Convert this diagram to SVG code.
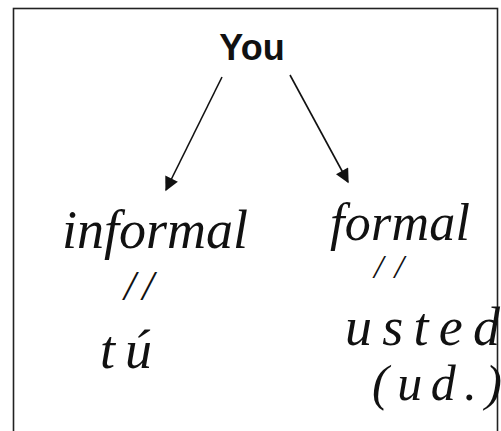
<svg xmlns="http://www.w3.org/2000/svg" width="501" height="431" viewBox="0 0 501 431">
<style>
.hand{font-family:"Liberation Serif","DejaVu Serif",serif;font-style:italic;fill:#111}
.conn{stroke:#111;stroke-width:1.6;fill:none}
</style>
<defs>
<marker id="ah" viewBox="0 0 10 10" refX="9" refY="5" markerWidth="15" markerHeight="14" markerUnits="userSpaceOnUse" orient="auto">
<path d="M0,0 L10,5 L0,10 z" fill="#111"/>
</marker>
</defs>
<rect width="501" height="431" fill="#fff"/>
<rect x="13.5" y="8.5" width="484" height="440" fill="none" stroke="#222" stroke-width="1.6"/>
<g id="you"><text x="252" y="60" text-anchor="middle" font-family="Liberation Sans, Arial, sans-serif" font-weight="bold" font-size="36" fill="#111">You</text></g>
<g id="connectors">
<line class="conn" x1="222" y1="77" x2="166" y2="190" marker-end="url(#ah)"/>
<line class="conn" x1="290" y1="75" x2="348" y2="182" marker-end="url(#ah)"/>
</g>
<g id="informal">
<text class="hand" x="62" y="248" font-size="54" textLength="186">informal</text>
<text class="hand" x="124" y="300" font-size="42" textLength="30">//</text>
<text class="hand" x="100" y="368" font-size="54" textLength="52">tú</text>
</g>
<g id="formal">
<text class="hand" x="330" y="240" font-size="52" textLength="140">formal</text>
<text class="hand" x="374" y="278" font-size="34" textLength="30">//</text>
<text class="hand" x="345" y="345" font-size="54" textLength="155">usted</text>
<text class="hand" x="372" y="400" font-size="50" textLength="130">(ud.)</text>
</g>
</svg>
